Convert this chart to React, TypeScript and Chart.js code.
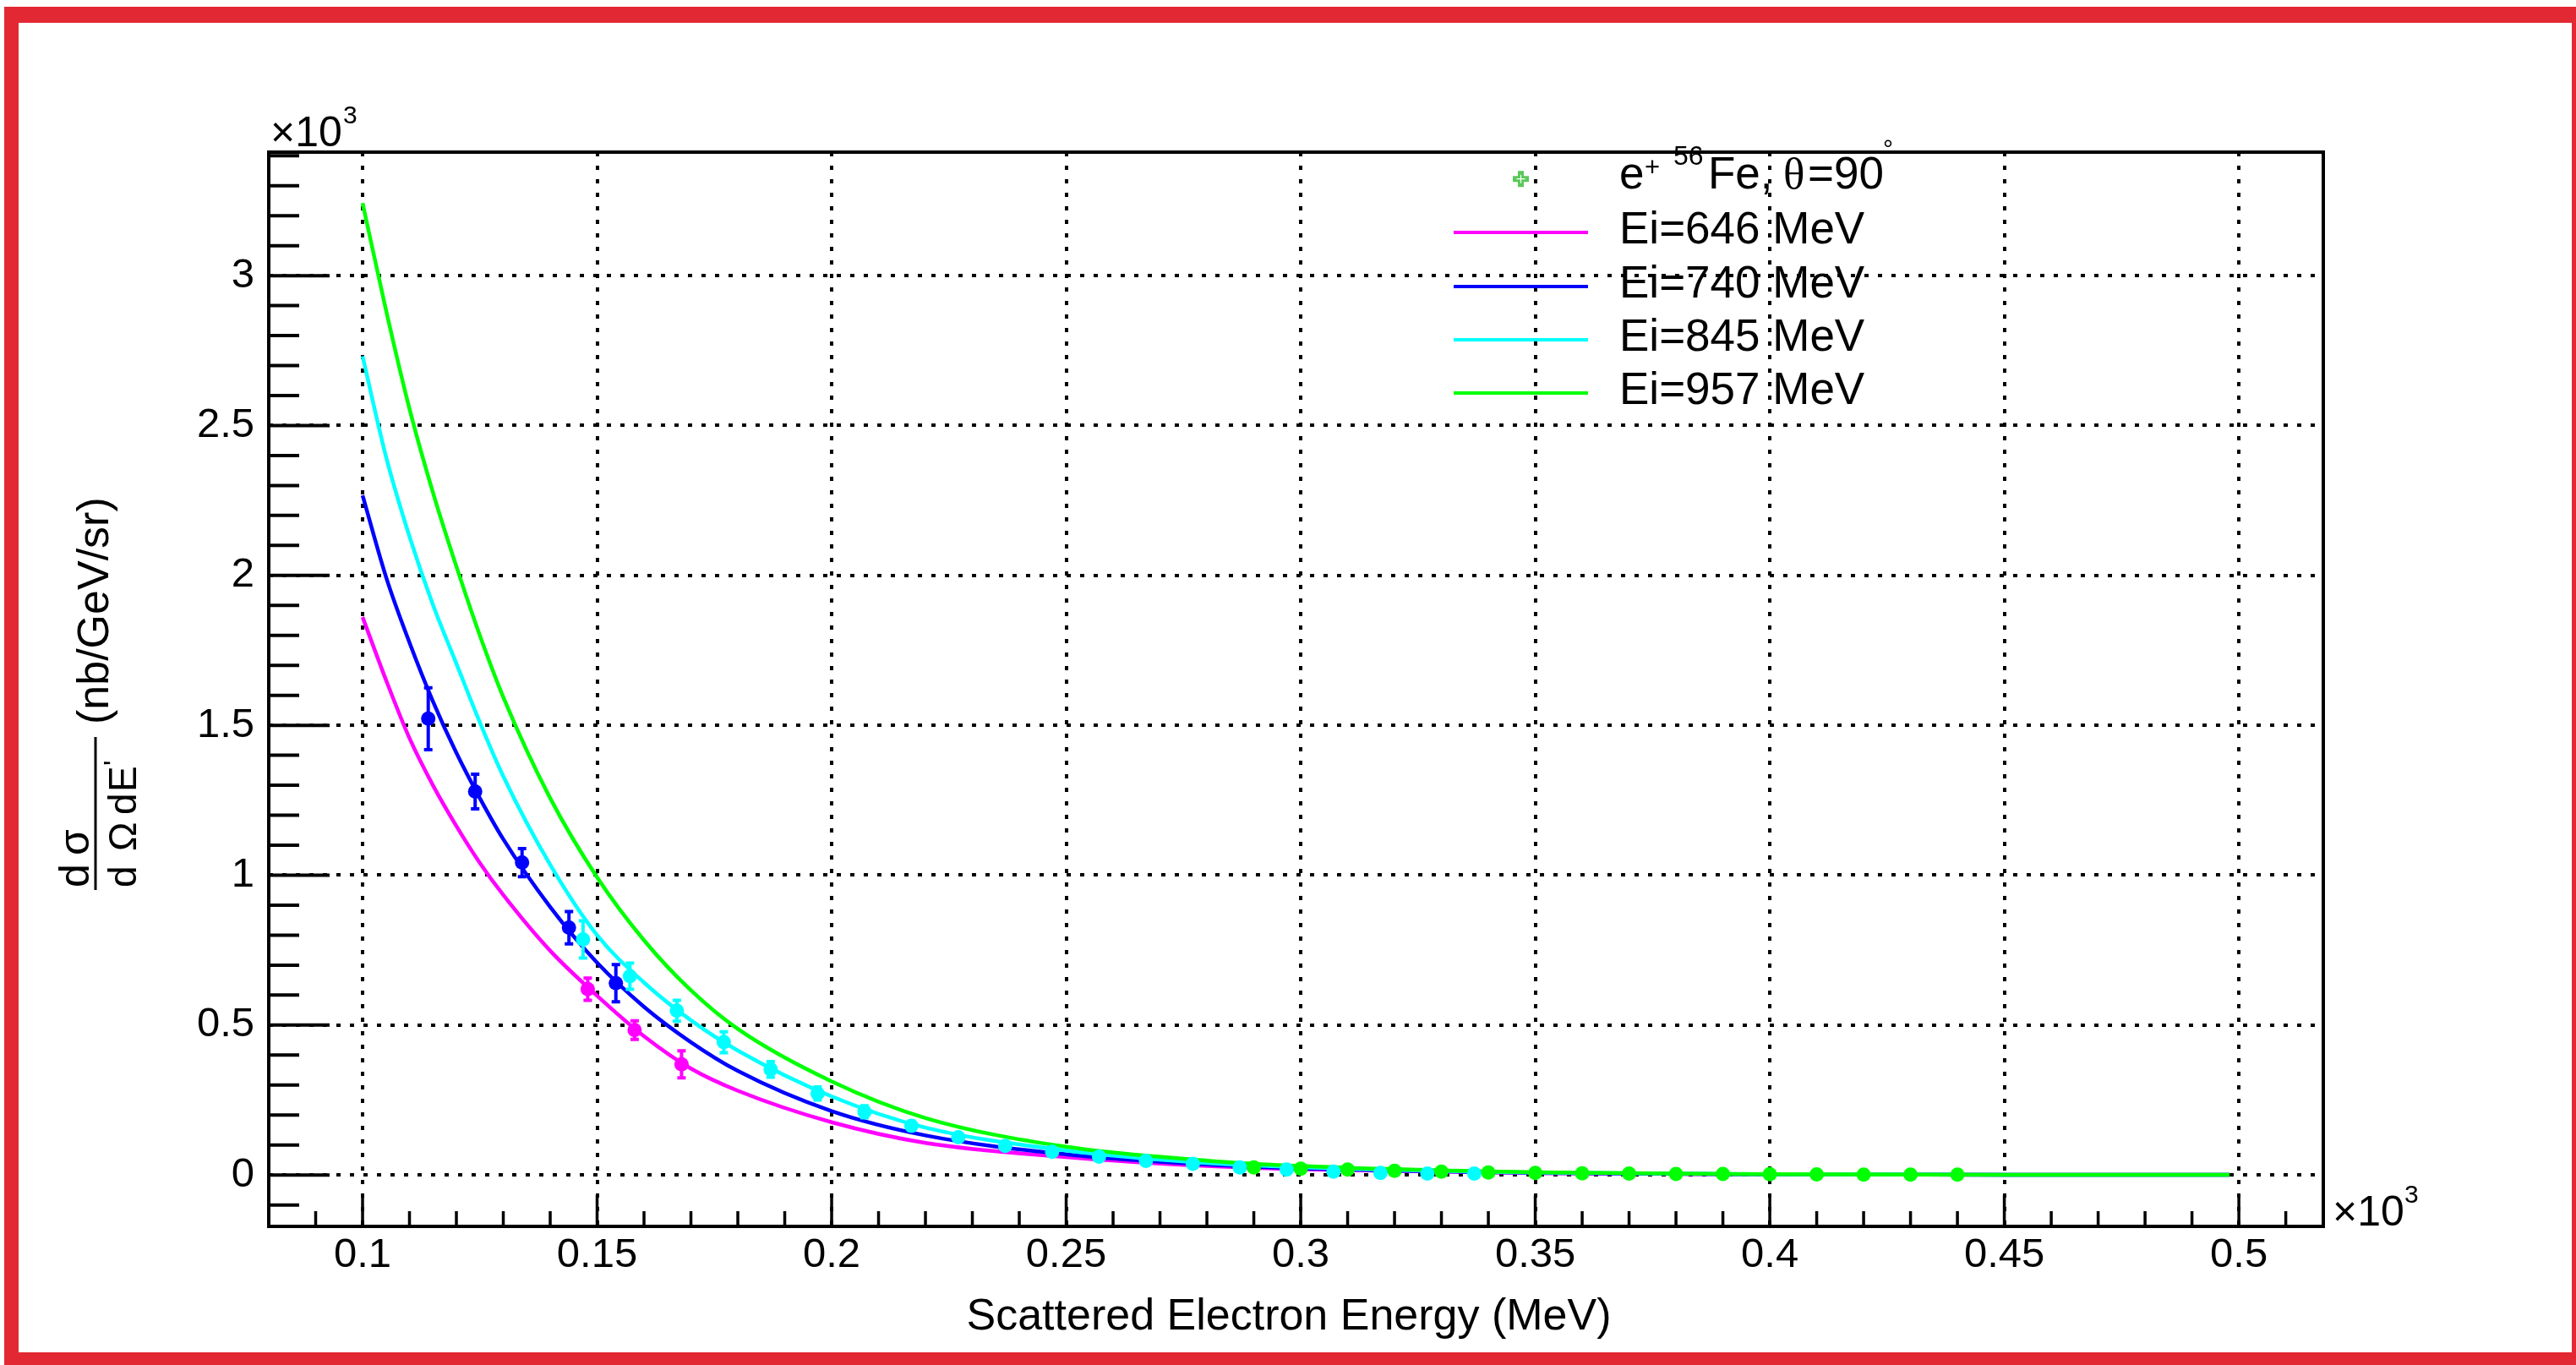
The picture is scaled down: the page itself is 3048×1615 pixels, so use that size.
import React, { useEffect, useRef } from 'react';
import { Chart, registerables } from 'chart.js';

Chart.register(...registerables);

// ---------- axes ----------
const X_TICKS = [100, 150, 200, 250, 300, 350, 400, 450, 500];
const Y_TICKS = [0, 500, 1000, 1500, 2000, 2500, 3000];
const X_MIN = 80;
const X_MAX = 518;
const Y_MIN = -171.5;
const Y_MAX = 3412;

// ---------- series ----------
const SERIES_LABELS = ['Ei=646 MeV', 'Ei=740 MeV', 'Ei=845 MeV', 'Ei=957 MeV'];
const SERIES_COLORS = ['#ff00ff', '#0000ff', '#00ffff', '#00ff00'];

// fitted curves (MeV, nb/GeV/sr)
const CURVE_X = [100, 105, 110, 115, 120, 125, 130, 140, 150, 160, 170, 180, 200, 220, 250, 280, 300, 350, 400, 450, 498];
const FIT_646 = [1861, 1651, 1457, 1300, 1164, 1041, 934, 748, 598, 463, 355, 281, 176, 107, 60, 30, 19, 6, 2, 0.7, 0.3];
const FIT_740 = [2267, 1995, 1776, 1580, 1408, 1257, 1120, 894, 708, 561, 443, 347, 213, 132, 69, 35, 22, 7, 2.3, 0.8, 0.3];
const FIT_845 = [2731, 2396, 2130, 1902, 1706, 1510, 1330, 1035, 800, 642, 516, 415, 262, 158, 81.5, 40, 26, 8, 2.5, 0.8, 0.3];
const FIT_957 = [3242, 2885, 2556, 2277, 2030, 1800, 1594, 1257, 993, 783, 616, 487, 312, 190, 94, 48, 30, 9, 2.7, 0.8, 0.25];

// measured points
const PTS_646_X = [148, 158, 168];
const PTS_646_Y = [620, 483, 369];
const PTS_646_E = [37, 31, 45];

const PTS_740_X = [114, 124, 134, 144, 154];
const PTS_740_Y = [1522, 1279, 1042, 825, 640];
const PTS_740_E = [103, 58, 47, 54, 62];

const PTS_845_X = [147, 157, 167, 177, 187, 197, 207, 217, 227, 237, 247, 257, 267, 277, 287, 297, 307, 317, 327, 337];
const PTS_845_Y = [786, 663, 548, 443, 352, 272, 211, 164, 126, 97, 77, 61, 47, 37, 25, 18, 11, 7, 5, 5];
const PTS_845_E = [62, 44, 35, 35, 26, 22, 20, 15, 12, 10, 8, 7, 6, 5, 4, 3, 3, 2, 2, 2];

const PTS_957_X = [290, 300, 310, 320, 330, 340, 350, 360, 370, 380, 390, 400, 410, 420, 430, 440];
const PTS_957_Y = [25, 21, 18, 14, 11, 8.5, 7, 5.5, 4.5, 3.5, 3, 2.5, 2, 1.5, 1.2, 1];
const PTS_957_E = [3, 3, 2, 2, 2, 2, 1, 1, 1, 1, 1, 1, 1, 1, 1, 1];

const FONT = "'Liberation Sans', Arial, Helvetica, sans-serif";
const SERIF = "'Liberation Serif', 'Times New Roman', serif";

const toXY = (xs: number[], ys: number[]) => xs.map((x, i) => ({ x, y: ys[i] }));

const rootPlugin = {
  id: 'rootStyle',
  beforeDatasetDraw(chart: any, args: any) {
    const ds = chart.data.datasets[args.index];
    if (!ds.errors) return;
    const ctx = chart.ctx;
    const ys = chart.scales.y;
    ctx.save();
    ctx.strokeStyle = ds.backgroundColor;
    args.meta.data.forEach((pt: any, i: number) => {
      const d = ds.data[i];
      const e = ds.errors[i];
      const yt = ys.getPixelForValue(d.y + e);
      const yb = ys.getPixelForValue(d.y - e);
      const x = pt.x;
      ctx.lineWidth = 4;
      ctx.beginPath();
      ctx.moveTo(x, yt);
      ctx.lineTo(x, yb);
      ctx.stroke();
      ctx.lineWidth = 4;
      ctx.beginPath();
      ctx.moveTo(x - 5, yt);
      ctx.lineTo(x + 5, yt);
      ctx.moveTo(x - 5, yb);
      ctx.lineTo(x + 5, yb);
      ctx.stroke();
    });
    ctx.restore();
  },
  afterDraw(chart: any) {
    const ctx = chart.ctx;
    const { left, right, top, bottom } = chart.chartArea;
    const xs = chart.scales.x;
    const ys = chart.scales.y;
    ctx.save();
    // frame
    ctx.strokeStyle = '#000';
    ctx.lineWidth = 4;
    ctx.strokeRect(left, top, right - left, bottom - top);
    // y ticks (inside)
    ctx.lineWidth = 4;
    ctx.beginPath();
    for (let k = -1; k <= 34; k++) {
      const p = ys.getPixelForValue(k * 100);
      if (p < top - 1 || p > bottom + 1) continue;
      const len = k % 5 === 0 ? 72 : 36;
      ctx.moveTo(left, p);
      ctx.lineTo(left + len, p);
    }
    ctx.stroke();
    // x ticks (inside)
    ctx.lineWidth = 3.5;
    ctx.beginPath();
    for (let k = 9; k <= 51; k++) {
      const p = xs.getPixelForValue(k * 10);
      const len = k % 5 === 0 ? 37 : 18;
      ctx.moveTo(p, bottom);
      ctx.lineTo(p, bottom - len);
    }
    ctx.stroke();

    ctx.fillStyle = '#000';
    ctx.textBaseline = 'alphabetic';
    ctx.textAlign = 'left';
    // exponent labels
    ctx.font = `50px ${FONT}`;
    ctx.fillText('×10', 320, 173);
    ctx.fillText('×10', 2760, 1450);
    ctx.font = `30px ${FONT}`;
    ctx.fillText('3', 406, 146);
    ctx.fillText('3', 2845, 1423);

    // x title
    ctx.font = `52px ${FONT}`;
    ctx.textAlign = 'center';
    ctx.fillText('Scattered Electron Energy (MeV)', 1525, 1573);
    ctx.textAlign = 'left';

    // y title (rotated)
    const rot = (txt: string, x: number, y: number, font: string) => {
      ctx.save();
      ctx.translate(x, y);
      ctx.rotate(-Math.PI / 2);
      ctx.font = font;
      ctx.fillText(txt, 0, 0);
      ctx.restore();
    };
    rot('(nb/GeV/sr)', 128, 857, `52px ${FONT}`);
    rot('d', 105, 1050, `50px ${FONT}`);
    rot('σ', 105, 1012, `50px ${FONT}`);
    ctx.lineWidth = 3;
    ctx.beginPath();
    ctx.moveTo(113, 872);
    ctx.lineTo(113, 1053);
    ctx.stroke();
    rot('d', 161, 1050, `46px ${FONT}`);
    rot('Ω', 161, 1007, `46px ${FONT}`);
    rot('d', 161, 964, `46px ${FONT}`);
    rot('E', 161, 937, `46px ${FONT}`);
    rot('\u0027', 146, 906, `34px ${FONT}`);

    // legend
    const tx = 1916;
    ctx.font = `53px ${FONT}`;
    ctx.fillText('e', tx, 223);
    ctx.font = `31px ${FONT}`;
    ctx.fillText('+', 1946, 208);
    ctx.font = `32px ${FONT}`;
    ctx.fillText('56', 1980, 195);
    ctx.font = `53px ${FONT}`;
    ctx.fillText('Fe,', 2021, 223);
    ctx.font = `53px ${SERIF}`;
    ctx.fillText('θ', 2110, 223);
    ctx.font = `53px ${FONT}`;
    ctx.fillText('=90', 2139, 223);
    ctx.font = `30px ${FONT}`;
    ctx.fillText('°', 2228, 186);

    // legend data marker (full cross)
    const mx = 1799.5, my = 211.7, a = 9.5, w = 3.5;
    ctx.fillStyle = '#5ac85a';
    ctx.beginPath();
    ctx.moveTo(mx - w, my - a);
    ctx.lineTo(mx + w, my - a);
    ctx.lineTo(mx + w, my - w);
    ctx.lineTo(mx + a, my - w);
    ctx.lineTo(mx + a, my + w);
    ctx.lineTo(mx + w, my + w);
    ctx.lineTo(mx + w, my + a);
    ctx.lineTo(mx - w, my + a);
    ctx.lineTo(mx - w, my + w);
    ctx.lineTo(mx - a, my + w);
    ctx.lineTo(mx - a, my - w);
    ctx.lineTo(mx - w, my - w);
    ctx.closePath();
    ctx.fill();
    ctx.strokeStyle = '#ffffff';
    ctx.lineWidth = 1.2;
    ctx.beginPath();
    ctx.moveTo(mx - 5, my);
    ctx.lineTo(mx + 5, my);
    ctx.moveTo(mx, my - 5);
    ctx.lineTo(mx, my + 5);
    ctx.stroke();

    const rows = [288, 352, 415, 478];
    ctx.font = `53px ${FONT}`;
    ctx.fillStyle = '#000';
    SERIES_LABELS.forEach((lab, i) => {
      const y = rows[i];
      ctx.strokeStyle = SERIES_COLORS[i];
      ctx.lineWidth = 4;
      ctx.beginPath();
      ctx.moveTo(1720, y - 13);
      ctx.lineTo(1879, y - 13);
      ctx.stroke();
      ctx.fillText(lab, tx, y);
    });
    ctx.restore();
  },
};

export default function App() {
  const ref = useRef<HTMLCanvasElement | null>(null);

  useEffect(() => {
    if (!ref.current) return;
    const fits = [FIT_646, FIT_740, FIT_845, FIT_957];
    const pts = [
      [PTS_646_X, PTS_646_Y, PTS_646_E],
      [PTS_740_X, PTS_740_Y, PTS_740_E],
      [PTS_845_X, PTS_845_Y, PTS_845_E],
      [PTS_957_X, PTS_957_Y, PTS_957_E],
    ];
    const pointSets: any[] = [];
    const lineSets: any[] = [];
    for (let i = 3; i >= 0; i--) {
      pointSets.push({
        label: SERIES_LABELS[i] + ' data',
        data: toXY(pts[i][0], pts[i][1]),
        errors: pts[i][2],
        backgroundColor: SERIES_COLORS[i],
        borderWidth: 0,
        pointRadius: 8.5,
        pointHoverRadius: 8.5,
        showLine: false,
        order: 0,
      });
      lineSets.push({
        label: SERIES_LABELS[i],
        data: toXY(CURVE_X, fits[i]),
        borderColor: SERIES_COLORS[i],
        backgroundColor: SERIES_COLORS[i],
        borderWidth: 4.5,
        pointRadius: 0,
        showLine: true,
        fill: false,
        cubicInterpolationMode: 'monotone',
        order: 1,
      });
    }

    const chart = new Chart(ref.current, {
      type: 'scatter',
      data: { datasets: [...pointSets, ...lineSets] },
      options: {
        animation: false,
        responsive: false,
        devicePixelRatio: 1,
        events: [],
        layout: { padding: { left: 18, top: 180, right: 299, bottom: 44 } },
        plugins: {
          legend: { display: false },
          tooltip: { enabled: false },
          title: { display: false },
        },
        scales: {
          x: {
            type: 'linear',
            min: X_MIN,
            max: X_MAX,
            afterBuildTicks: (s: any) => {
              s.ticks = X_TICKS.map((v) => ({ value: v }));
            },
            afterFit: (s: any) => {
              s.height = 120;
            },
            grid: { color: '#000', lineWidth: 4, drawTicks: false },
            border: { display: false, dash: [5, 11] },
            ticks: {
              font: { family: FONT, size: 49 },
              color: '#000',
              padding: 5,
              maxRotation: 0,
              autoSkip: false,
              callback: (v: any) => String(Number(v) / 1000),
            },
          },
          y: {
            type: 'linear',
            min: Y_MIN,
            max: Y_MAX,
            afterBuildTicks: (s: any) => {
              s.ticks = Y_TICKS.map((v) => ({ value: v }));
            },
            afterFit: (s: any) => {
              s.width = 300;
            },
            grid: { color: '#000', lineWidth: 4, drawTicks: false },
            border: { display: false, dash: [5, 11] },
            ticks: {
              font: { family: FONT, size: 49 },
              color: '#000',
              padding: 17,
              autoSkip: false,
              callback: (v: any) => String(Number(v) / 1000),
            },
          },
        },
      } as any,
      plugins: [rootPlugin as any],
    });
    return () => chart.destroy();
  }, []);

  return (
    <div
      style={{
        position: 'fixed',
        left: 0,
        top: 0,
        width: 3048,
        height: 1615,
        overflow: 'hidden',
        background: '#ffffff',
      }}
    >
      <div
        style={{
          position: 'absolute',
          left: 5,
          top: 8,
          width: 3057,
          height: 1611,
          boxSizing: 'border-box',
          borderStyle: 'solid',
          borderColor: '#e22833',
          borderWidth: '19px 19px 19px 17px',
        }}
      />
      <canvas
        ref={ref}
        width={3048}
        height={1615}
        style={{ position: 'absolute', left: 0, top: 0, width: 3048, height: 1615 }}
      />
    </div>
  );
}
